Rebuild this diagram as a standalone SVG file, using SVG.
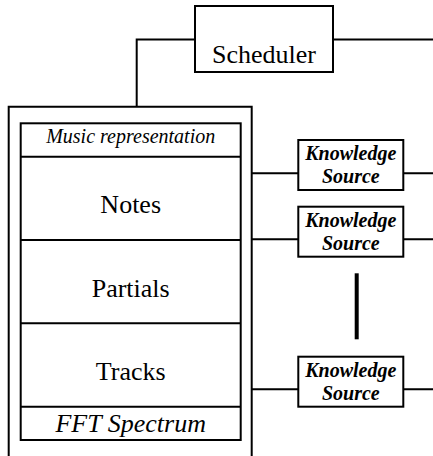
<svg xmlns="http://www.w3.org/2000/svg" width="433" height="456" viewBox="0 0 433 456">
<style>
.box{fill:#fff;stroke:#000;stroke-width:2}
.ln{fill:none;stroke:#000;stroke-width:2}
text{font-family:'Liberation Serif','Times New Roman',Tinos,'DejaVu Serif',serif;fill:#000;text-anchor:middle}
.big{font-size:26px}
.it{font-style:italic}
.ks{font-size:20px;font-weight:bold;font-style:italic}
</style>
<rect width="433" height="456" fill="#fff"/>
<g id="connectors">
<path class="ln" d="M195,39.5 H136.7 V106.7"/>
<path class="ln" d="M333,39.5 H433"/>
<path class="ln" d="M251.7,173.3 H298.3 M403.3,173.3 H433"/>
<path class="ln" d="M251.7,239.3 H298.3 M403.3,239.3 H433"/>
<path class="ln" d="M251.7,389.3 H298.3 M403.3,389.3 H433"/>
</g>
<g id="ellipsis">
<line x1="356.7" y1="273.3" x2="356.7" y2="339.3" stroke="#000" stroke-width="4"/>
</g>
<g id="scheduler">
<rect class="box" x="195" y="6" width="138" height="66"/>
<text class="big" x="264" y="63.3" font-family="Liberation Serif, serif">Scheduler</text>
</g>
<g id="blackboard">
<path class="ln" d="M8.7,457 V106.7 H251.7 V457"/>
<rect class="box" x="20.7" y="123.3" width="220" height="316.7"/>
<path class="ln" d="M20.7,156.7 H240.7 M20.7,240 H240.7 M20.7,323.3 H240.7 M20.7,406.7 H240.7"/>
<text class="it" x="130.7" y="143.3" font-size="20">Music representation</text>
<text class="big" x="130.7" y="213.3">Notes</text>
<text class="big" x="130.7" y="296.7">Partials</text>
<text class="big" x="130.7" y="380">Tracks</text>
<text class="big it" x="130.7" y="431.7">FFT Spectrum</text>
</g>
<g id="ks1">
<rect class="box" x="298.3" y="140" width="105" height="50"/>
<text class="ks" x="350.8" y="160">Knowledge</text>
<text class="ks" x="350.8" y="183.3">Source</text>
</g>
<g id="ks2">
<rect class="box" x="298.3" y="206.7" width="105" height="50"/>
<text class="ks" x="350.8" y="226.7">Knowledge</text>
<text class="ks" x="350.8" y="250">Source</text>
</g>
<g id="ks3">
<rect class="box" x="298.3" y="356.7" width="105" height="50"/>
<text class="ks" x="350.8" y="376.7">Knowledge</text>
<text class="ks" x="350.8" y="400">Source</text>
</g>
</svg>
